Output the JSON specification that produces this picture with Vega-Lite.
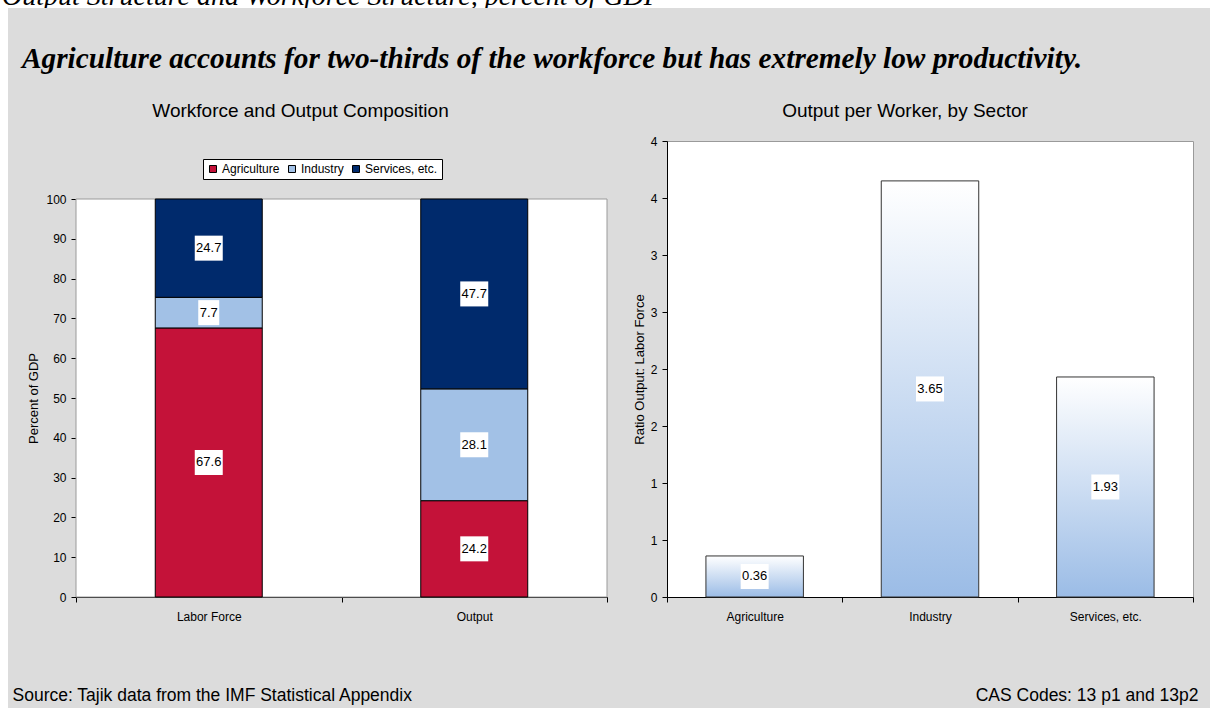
{
  "$schema": "https://vega.github.io/schema/vega-lite/v6.json",
  "background": "#dcdcdc",
  "padding": 0,
  "bounds": "flush",
  "spacing": 0,
  "resolve": {"legend": {"color": "independent"}},
  "config": {
    "view": {"fill": "white", "stroke": "#9a9a9a"},
    "axis": {
      "labelFont": "Liberation Sans", "labelFontSize": 12, "labelColor": "black", "labelOverlap": false,
      "titleFont": "Liberation Sans", "titleFontSize": 13, "titleFontWeight": "normal", "titleColor": "black",
      "domainColor": "black", "tickColor": "black", "tickSize": 5, "grid": false
    }
  },
  "vconcat": [
    {
      "width": 1210, "height": 8,
      "view": {"fill": "white", "stroke": null},
      "data": {"values": [{"t": "Output Structure and Workforce Structure, percent of GDP"}]},
      "mark": {"type": "text", "clip": true, "x": 2, "y": 5, "align": "left", "baseline": "alphabetic", "font": "Liberation Serif", "fontStyle": "italic", "fontSize": 28, "color": "black"},
      "encoding": {"text": {"field": "t", "type": "nominal"}}
    },
    {
      "bounds": "flush",
      "spacing": 68,
      "resolve": {"legend": {"color": "independent"}},
      "hconcat": [
        {
          "width": 8, "height": 700,
          "view": {"fill": "white", "stroke": null},
          "data": {"values": [{}]},
          "mark": {"type": "text", "text": ""},
          "encoding": {}
        },
        {
          "bounds": "flush",
          "spacing": 0,
          "resolve": {"legend": {"color": "independent"}},
          "vconcat": [
            {
              "width": 1, "height": 133,
              "view": {"fill": null, "stroke": null},
              "data": {"values": [{}]},
              "mark": {"type": "text", "text": ""},
              "encoding": {},
              "title": {"text": "Agriculture accounts for two-thirds of the workforce but has extremely low productivity.", "orient": "bottom", "anchor": "start", "frame": "group", "offset": -96, "dx": -54, "baseline": "top", "font": "Liberation Serif", "fontSize": 29.3, "fontWeight": "bold", "fontStyle": "italic", "color": "black"}
            },
            {
              "bounds": "flush",
              "spacing": 60,
              "resolve": {"legend": {"color": "independent"}},
              "hconcat": [
                {
                  "width": 531, "height": 456,
                  "view": {"fill": null, "stroke": null},
                  "title": {"text": "Workforce and Output Composition", "anchor": "middle", "frame": "group", "dx": -41, "offset": 20, "font": "Liberation Sans", "fontSize": 19, "fontWeight": "normal", "color": "black"},
                  "data": {"values": [
                    {"measure": "Labor Force", "sector": "Agriculture", "value": 67.6},
                    {"measure": "Labor Force", "sector": "Industry", "value": 7.7},
                    {"measure": "Labor Force", "sector": "Services, etc.", "value": 24.7},
                    {"measure": "Output", "sector": "Agriculture", "value": 24.2},
                    {"measure": "Output", "sector": "Industry", "value": 28.1},
                    {"measure": "Output", "sector": "Services, etc.", "value": 47.7}
                  ]},
                  "layer": [
                    {
                      "data": {"values": [{"top": 100, "bottom": 0}]},
                      "mark": {"type": "rect", "fill": "white", "stroke": "#9a9a9a", "strokeWidth": 1},
                      "encoding": {
                        "y": {"field": "top", "type": "quantitative", "scale": {"domain": [0, 100], "range": [456, 58]}, "title": "Percent of GDP"},
                        "y2": {"field": "bottom"}
                      }
                    },
                    {
                      "mark": {"type": "bar", "width": {"band": 0.403}, "stroke": "black", "strokeWidth": 1},
                      "encoding": {
                        "x": {"field": "measure", "type": "nominal", "sort": ["Labor Force", "Output"], "scale": {"paddingInner": 0, "paddingOuter": 0},
                          "axis": {"title": "Source: Tajik data from the IMF Statistical Appendix", "titleAnchor": "start", "titleAlign": "left", "titleX": -64, "titleY": 103, "titleBaseline": "alphabetic", "titleFontSize": 17.5, "labelAngle": 0, "tickBand": "extent", "labelPadding": 9}},
                        "y": {"field": "value", "type": "quantitative", "stack": "zero", "scale": {"domain": [0, 100], "range": [456, 58]},
                          "axis": {"title": "Percent of GDP", "values": [0, 10, 20, 30, 40, 50, 60, 70, 80, 90, 100], "labelPadding": 5, "titlePadding": 5}},
                        "order": {"field": "sector", "sort": "ascending"},
                        "detail": {"field": "sector", "type": "nominal"},
                        "color": {"field": "sector", "type": "nominal",
                          "scale": {"domain": ["Agriculture", "Industry", "Services, etc."], "range": ["#C41239", "#A2C1E6", "#002A6C"]},
                          "legend": {"orient": "none", "legendX": 127, "legendY": 18, "direction": "horizontal", "title": null, "fillColor": "white", "strokeColor": "black", "padding": 4, "symbolType": "square", "symbolSize": 49, "symbolStrokeColor": "black", "symbolStrokeWidth": 1, "symbolOpacity": 1, "labelFont": "Liberation Sans", "labelFontSize": 12, "labelColor": "black", "columnPadding": 6, "labelOffset": 3}}
                      }
                    },
                    {
                      "mark": {"type": "point", "filled": true, "color": "white", "opacity": 1, "strokeWidth": 0, "size": 784},
                      "encoding": {
                        "x": {"field": "measure", "type": "nominal", "sort": ["Labor Force", "Output"], "scale": {"paddingInner": 0, "paddingOuter": 0}, "title": "Source: Tajik data from the IMF Statistical Appendix"},
                        "y": {"field": "value", "type": "quantitative", "stack": "zero", "bandPosition": 0.5, "title": "Percent of GDP"},
                        "order": {"field": "sector", "sort": "ascending"},
                        "detail": {"field": "sector", "type": "nominal"},
                        "shape": {"condition": {"test": "datum.value < 10", "value": "M-0.75,-0.893L0.75,-0.893L0.75,0.893L-0.75,0.893Z"}, "value": "M-1,-0.893L1,-0.893L1,0.893L-1,0.893Z"}
                      }
                    },
                    {
                      "mark": {"type": "text", "font": "Liberation Sans", "fontSize": 13, "color": "black", "baseline": "middle"},
                      "encoding": {
                        "x": {"field": "measure", "type": "nominal", "sort": ["Labor Force", "Output"], "scale": {"paddingInner": 0, "paddingOuter": 0}, "title": "Source: Tajik data from the IMF Statistical Appendix"},
                        "y": {"field": "value", "type": "quantitative", "stack": "zero", "bandPosition": 0.5, "title": "Percent of GDP"},
                        "order": {"field": "sector", "sort": "ascending"},
                        "detail": {"field": "sector", "type": "nominal"},
                        "text": {"field": "value", "type": "quantitative", "format": ".1f"}
                      }
                    }
                  ]
                },
                {
                  "width": 526, "height": 456,
                  "title": {"text": "Output per Worker, by Sector", "anchor": "middle", "frame": "group", "dx": -25, "offset": 14, "font": "Liberation Sans", "fontSize": 19, "fontWeight": "normal", "color": "black"},
                  "data": {"values": [
                    {"sector": "Agriculture", "ratio": 0.36},
                    {"sector": "Industry", "ratio": 3.65},
                    {"sector": "Services, etc.", "ratio": 1.93}
                  ]},
                  "encoding": {
                    "x": {"field": "sector", "type": "nominal", "sort": ["Agriculture", "Industry", "Services, etc."], "scale": {"paddingInner": 0, "paddingOuter": 0},
                      "axis": {"title": "CAS Codes: 13 p1 and 13p2", "titleAnchor": "end", "titleAlign": "right", "titleX": 531, "titleY": 103, "titleBaseline": "alphabetic", "titleFontSize": 17.5, "labelAngle": 0, "tickBand": "extent", "labelPadding": 9}},
                    "detail": {"field": "sector", "type": "nominal"}
                  },
                  "layer": [
                    {
                      "mark": {"type": "bar", "width": {"band": 0.556}, "stroke": "#333333", "strokeWidth": 1,
                        "color": {"gradient": "linear", "x1": 0, "y1": 0, "x2": 0, "y2": 1, "stops": [{"offset": 0, "color": "#ffffff"}, {"offset": 1, "color": "#9bbce6"}]}},
                      "encoding": {
                        "y": {"field": "ratio", "type": "quantitative", "scale": {"domain": [0, 4]},
                          "axis": {"title": "Ratio Output: Labor Force", "values": [0, 0.5, 1, 1.5, 2, 2.5, 3, 3.5, 4], "format": ".0f", "labelPadding": 5, "titlePadding": 4}}
                      }
                    },
                    {
                      "mark": {"type": "point", "filled": true, "color": "white", "opacity": 1, "strokeWidth": 0, "size": 784, "shape": "M-1,-0.893L1,-0.893L1,0.893L-1,0.893Z"},
                      "encoding": {
                        "y": {"field": "ratio", "type": "quantitative", "stack": "zero", "bandPosition": 0.5, "title": "Ratio Output: Labor Force"}
                      }
                    },
                    {
                      "mark": {"type": "text", "font": "Liberation Sans", "fontSize": 13, "color": "black", "baseline": "middle"},
                      "encoding": {
                        "y": {"field": "ratio", "type": "quantitative", "stack": "zero", "bandPosition": 0.5, "title": "Ratio Output: Labor Force"},
                        "text": {"field": "ratio", "type": "quantitative", "format": ".2f"}
                      }
                    }
                  ]
                }
              ]
            }
          ]
        }
      ]
    }
  ]
}
